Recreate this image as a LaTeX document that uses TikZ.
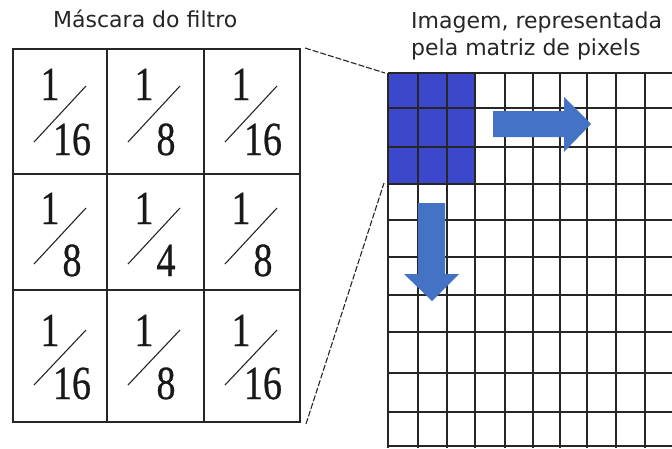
\documentclass[tikz,border=0pt]{standalone}
\usepackage{fontspec}
\setmainfont{Liberation Serif}
\newfontfamily\labelfont{DejaVu Sans}
\newfontfamily\fracfont[FakeBold=0.6]{Liberation Serif}
\definecolor{pixblue}{RGB}{59,72,204}
\definecolor{arrowblue}{RGB}{68,114,196}
\begin{document}
\begin{tikzpicture}[x=1pt,y=-1pt,
  cellline/.style={line width=1.3pt,black!85},
  gridline/.style={line width=1.6pt,black!85},
  slashline/.style={line width=1.1pt,black!85},
  conn/.style={line width=1.1pt,black!85,dash pattern=on 6pt off 2pt},
  fig/.style={inner sep=0pt,anchor=base,font=\fracfont\fontsize{38}{38}\selectfont,text=black!90},
  titletext/.style={inner sep=0pt,anchor=base west,font=\labelfont\fontsize{22}{22}\selectfont,text=black!85},
  bluearrow/.style={fill=arrowblue,draw=none}]
\useasboundingbox (0,0) rectangle (672,448);

% titles
\node[titletext] (t1) at (53,27) {Máscara do filtro};
\node[titletext] (t2) at (411,28) {Imagem, representada};
\node[titletext] (t3) at (411,55) {pela matriz de pixels};

% filter mask
\draw[cellline] (13,49) rectangle (300,422);
\draw[cellline] (107,49) -- (107,422) (204,49) -- (204,422);
\draw[cellline] (13,174) -- (300,174) (13,290) -- (300,290);

\foreach \L/\nb/\db/\sb/\st/\den/\nm in {
  13/100/155/142/86/16/a, 107/100/155/142/86/8/b, 204/100/155/142/86/16/c,
  13/224/276/264/208/8/d, 107/224/276/264/208/4/e, 204/224/276/264/208/8/f,
  13/346/399/385/330/16/g, 107/346/399/385/330/8/h, 204/346/399/385/330/16/i}{
  \node[fig] (num\nm) at (\L+37,\nb) {\scalebox{1}[1.25]{1}};
  \node[fig] (den\nm) at (\L+59,\db) {\scalebox{1}[1.25]{\den}};
  \draw[slashline] (\L+21,\sb) -- (\L+73,\st);
}

% pixel grid
\fill[pixblue] (388,73) rectangle (475,184);
\begin{scope}
\clip (0,0) rectangle (672,448);
\foreach \x in {388,418,447,475,505,533,560,587,616,645,674}
  \draw[gridline] (\x,73) -- (\x,448);
\foreach \y in {73,108,147,184,220,257,295,332,373,412,446}
  \draw[gridline] (388,\y) -- (680,\y);
\end{scope}

% arrows
\fill[bluearrow] (493,111) -- (564,111) -- (564,97) -- (591,124) -- (564,152) -- (564,137) -- (493,137) -- cycle;
\fill[bluearrow] (418,203) -- (445,203) -- (445,274) -- (459,274) -- (432,301) -- (404,274) -- (418,274) -- cycle;

% connectors
\coordinate (mtr) at (305,48);
\coordinate (gtl) at (385,73);
\coordinate (mbr) at (306,424);
\coordinate (gbl) at (384,183);
\draw[conn] (mtr) -- (gtl);
\draw[conn] (mbr) -- (gbl);
\end{tikzpicture}
\end{document}
